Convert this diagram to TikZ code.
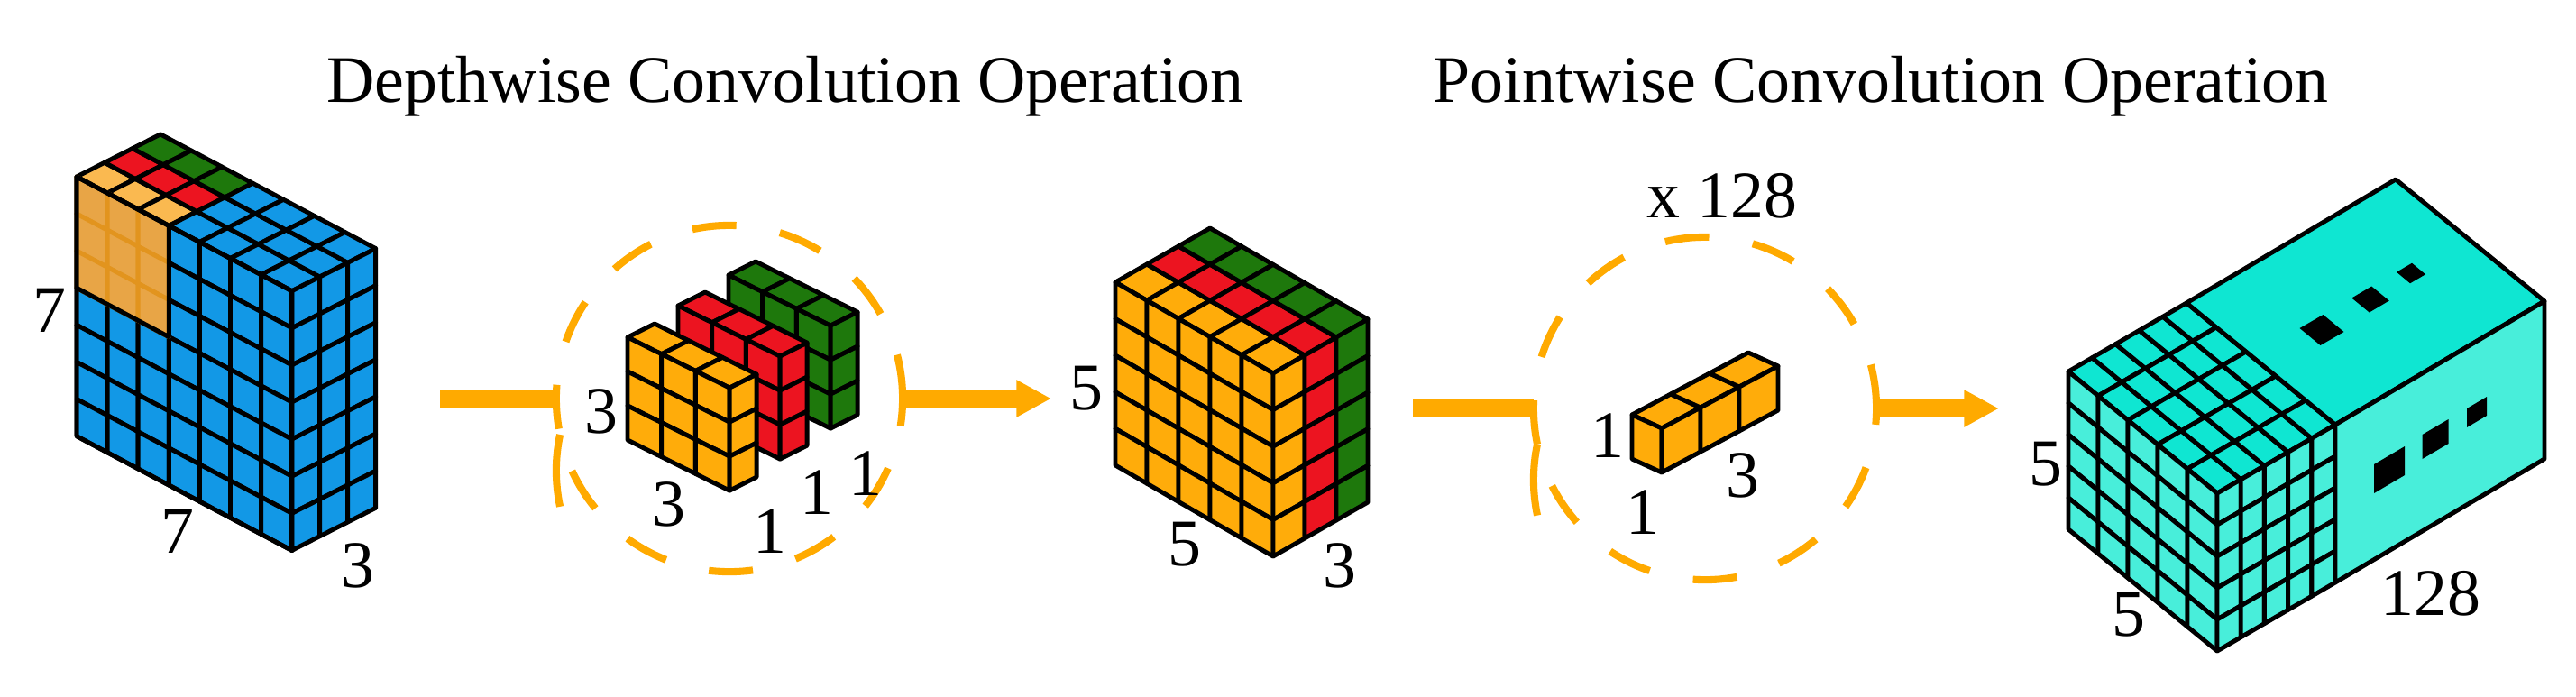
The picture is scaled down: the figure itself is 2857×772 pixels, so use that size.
\documentclass[tikz,border=0pt]{standalone}
\usepackage{fontspec}
\setmainfont{Liberation Serif}
\usetikzlibrary{arrows.meta}
\definecolor{blueC}{RGB}{18,152,230}
\definecolor{orC}{RGB}{255,172,10}
\definecolor{orT}{RGB}{250,185,80}
\definecolor{redC}{RGB}{236,20,32}
\definecolor{greenC}{RGB}{30,120,12}
\definecolor{ovl}{RGB}{232,165,70}
\definecolor{ovlL}{RGB}{226,148,30}
\definecolor{cyT}{RGB}{15,230,210}
\definecolor{cyS}{RGB}{72,238,218}
\definecolor{arrC}{RGB}{255,170,0}
\tikzset{
 cl/.style={draw=black,line width=1.4pt,line join=round},
 ol/.style={draw=ovlL,line width=1.4pt,line join=round},
 lab/.style={font=\fontsize{21}{24}\selectfont,inner sep=0pt},
 ttl/.style={font=\fontsize{21}{24}\selectfont,inner sep=0pt,anchor=base},
 dcirc/.style={circle,draw=arrC,line width=2.3pt,dash pattern=on 0.49cm off 0.49cm,inner sep=0pt,outer sep=0pt},
 arr/.style={draw=arrC,line width=5.5pt},
 arrh/.style={arr,-{Triangle[length=11pt,width=11pt]}},
 joint/.style={draw=arrC,line width=2.3pt}
}
\newcommand\qc[7]{\filldraw[fill=#1,cl] ({#2},{#3}) -- ++({#4},{#5}) -- ++({#6},{#7}) -- ++({-(#4)},{-(#5)}) -- cycle;}
\newcommand\qo[7]{\filldraw[fill=#1,ol] ({#2},{#3}) -- ++({#4},{#5}) -- ++({#6},{#7}) -- ++({-(#4)},{-(#5)}) -- cycle;}
\newcommand\sqd[6]{\fill[black] ({#1-(#3+#5)/2},{#2-(#4+#6)/2}) -- ++({#3},{#4}) -- ++({#5},{#6}) -- ++({-(#3)},{-(#4)}) -- cycle;}
\newcommand\drawcub{%
 \foreach \i in {1,...,\nw}{\foreach \j in {1,...,\nd}{\topcolor
   \qc{\col}{\Ax+(\i-1)*(\wx)+(\j-1)*(\dx)}{\Ay+(\i-1)*(\wy)+(\j-1)*(\dy)}{\wx}{\wy}{\dx}{\dy}}}%
 \foreach \i in {1,...,\nw}{\foreach \k in {1,...,\nv}{\frontcolor
   \qc{\col}{\Ax+(\i-1)*(\wx)}{\Ay+(\i-1)*(\wy)+(\k-1)*(\vy)}{\wx}{\wy}{0}{\vy}}}%
 \foreach \j in {1,...,\nd}{\foreach \k in {1,...,\nv}{\sidecolor
   \qc{\col}{\Ax+\nw*(\wx)+(\j-1)*(\dx)}{\Ay+\nw*(\wy)+(\j-1)*(\dy)+(\k-1)*(\vy)}{\dx}{\dy}{0}{\vy}}}%
}
\newcommand\setcub[9]{\def\Ax{#1}\def\Ay{#2}\def\wx{#3}\def\wy{#4}\def\nw{#5}\def\vy{#6}\def\nv{#7}\def\dx{#8}\def\dy{#9}}
\begin{document}
\begin{tikzpicture}[x=0.01cm,y=-0.01cm]
\useasboundingbox (0,0) rectangle (2857,772);
% titles
\node[ttl] (t1) at (871,113) {Depthwise Convolution Operation};
\node[ttl] (t2) at (2086,113) {Pointwise Convolution Operation};
% ---------- block 1: 7x7x3 input
\setcub{85}{196}{34.1}{18.1}{7}{41.1}{7}{31}{-15.7}\def\nd{3}
\def\topcolor{\ifnum\i<4 \ifcase\j\or\def\col{orT}\or\def\col{redC}\or\def\col{greenC}\fi\else\def\col{blueC}\fi}
\def\frontcolor{\def\col{blueC}}
\def\sidecolor{\def\col{blueC}}
\drawcub
\foreach \i in {1,2,3}{\foreach \k in {1,2,3}{\qo{ovl}{85+(\i-1)*34.1}{196+(\i-1)*18.1+(\k-1)*41.1}{34.1}{18.1}{0}{41.1}}}
\draw[cl] (85,196) -- ++(102.3,54.3) -- ++(0,123.3) -- ++(-102.3,-54.3) -- cycle;
\draw[cl] (85,196) -- ++(239,127) -- ++(0,287.7) -- ++(-239,-127) -- cycle;
\node[lab] (l1a) at (55,344) {7};
\node[lab] (l1b) at (197,589) {7};
\node[lab] (l1c) at (397,627) {3};
% ---------- block 2: kernels
\node[dcirc,minimum size=3.84cm] (c1) at (809,442) {};
\def\topcolor{\def\col{greenC}}\def\frontcolor{\def\col{greenC}}\def\sidecolor{\def\col{greenC}}
\setcub{808}{305}{37.7}{18.7}{3}{38}{3}{30}{-15}\def\nd{1}\drawcub
\def\topcolor{\def\col{redC}}\def\frontcolor{\def\col{redC}}\def\sidecolor{\def\col{redC}}
\setcub{752}{339}{37.7}{18.7}{3}{38}{3}{30}{-15}\def\nd{1}\drawcub
\def\topcolor{\def\col{orC}}\def\frontcolor{\def\col{orC}}\def\sidecolor{\def\col{orC}}
\setcub{696}{374}{37.7}{18.7}{3}{38}{3}{30}{-15}\def\nd{1}\drawcub
\node[lab] (l2a) at (667,456) {3};
\node[lab] (l2b) at (742,559) {3};
\node[lab] (l2c) at (854,589) {1};
\node[lab] (l2d) at (906,546) {1};
\node[lab] (l2e) at (960,525) {1};
% ---------- block 3: 5x5x3
\setcub{1237}{313}{35}{20.2}{5}{40.6}{5}{35}{-20}\def\nd{3}
\def\topcolor{\ifcase\j\or\def\col{orC}\or\def\col{redC}\or\def\col{greenC}\fi}
\def\frontcolor{\def\col{orC}}
\def\sidecolor{\ifcase\j\or\def\col{orC}\or\def\col{redC}\or\def\col{greenC}\fi}
\drawcub
\node[lab] (l3a) at (1205,431) {5};
\node[lab] (l3b) at (1314,604) {5};
\node[lab] (l3c) at (1486,627) {3};
% ---------- block 4: 1x1x3
\node[dcirc,minimum size=3.8cm] (c2) at (1891,453) {};
\def\topcolor{\def\col{orC}}\def\frontcolor{\def\col{orC}}\def\sidecolor{\def\col{orC}}
\setcub{1810}{460}{33}{15}{1}{49}{1}{43}{-23}\def\nd{3}\drawcub
\node[lab] (l4t) at (1910,217) {x\ 128};
\node[lab] (l4a) at (1783,483) {1};
\node[lab] (l4b) at (1822,568) {1};
\node[lab] (l4c) at (1933,527) {3};
% ---------- block 5: 5x5x128
\setcub{2294}{412}{33}{27}{5}{35}{5}{26.2}{-15.2}\def\nd{5}
\def\topcolor{\def\col{cyT}}\def\frontcolor{\def\col{cyS}}\def\sidecolor{\def\col{cyS}}
\drawcub
\filldraw[fill=cyT,cl] (2425,336) -- (2657,199) -- (2822,334) -- (2590,471) -- cycle;
\filldraw[fill=cyS,cl] (2590,471) -- (2822,334) -- (2822,509) -- (2590,646) -- cycle;
\sqd{2575}{366}{23}{19}{26}{-15}
\sqd{2629}{332}{19.5}{16}{22}{-13}
\sqd{2674}{303}{15}{12.5}{17}{-10}
\sqd{2650}{521}{34}{-20}{0}{32}
\sqd{2701}{487}{29}{-17}{0}{27}
\sqd{2747}{457}{22}{-13}{0}{21}
\node[lab] (l5a) at (2269,515) {5};
\node[lab] (l5b) at (2361,682) {5};
\node[lab] (l5c) at (2696,658) {128};
% ---------- arrows
\coordinate (a1) at (488,442);
\coordinate (a2) at (1166,442);
\coordinate (a3) at (1567,453);
\coordinate (a4) at (2217,453);
\draw[arr] (a1) -- (c1.west);
\draw[joint] (c1.192) arc[start angle=168,end angle=192,radius=1.92cm];
\draw[arrh] (c1.east) -- (a2);
\draw[arr] (a3) -- (c2.west);
\draw[joint] (c2.192) arc[start angle=168,end angle=192,radius=1.9cm];
\draw[arrh] (c2.east) -- (a4);
\end{tikzpicture}
\end{document}
